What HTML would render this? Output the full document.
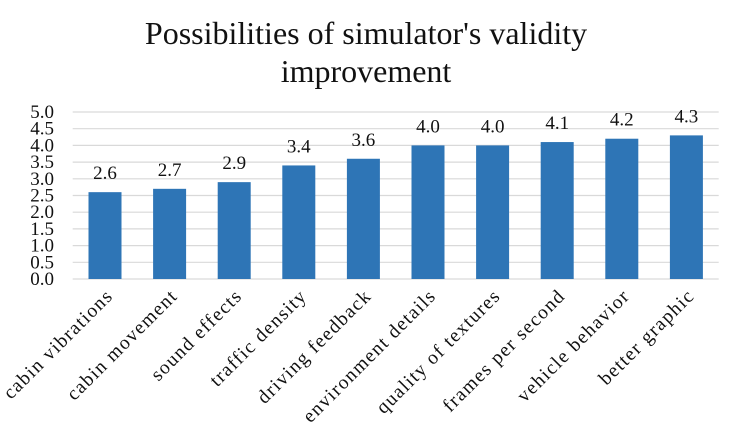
<!DOCTYPE html>
<html><head><meta charset="utf-8"><style>
body{margin:0;background:#fff}
svg{display:block;font-family:"Liberation Serif",serif}
</style></head><body>
<svg id="c" width="732" height="432">
<text x="366" y="44" text-anchor="middle" font-size="32" fill="#111">Possibilities of simulator's validity</text>
<text x="366" y="82" text-anchor="middle" font-size="32" fill="#111">improvement</text>
<g id="grid"></g><g id="bars"></g><g id="labels"></g>
</svg>
<script>
const categories=["cabin vibrations","cabin movement","sound effects","traffic density","driving feedback","environment details","quality of textures","frames per second","vehicle behavior","better graphic"];
const values=[2.6,2.7,2.9,3.4,3.6,4.0,4.0,4.1,4.2,4.3];
const ticks=[0,0.5,1,1.5,2,2.5,3,3.5,4,4.5,5];
const L=72.7,R=718.7,Y0=279,Y5=112,yMax=5;
const y=v=>Y0-(Y0-Y5)*v/yMax;
const band=(R-L)/categories.length;
const x=i=>L+band*(i+0.5);
const NS="http://www.w3.org/2000/svg";
function mk(t,a,p){const e=document.createElementNS(NS,t);for(const k in a)e.setAttribute(k,a[k]);p.appendChild(e);return e;}
const g=document.getElementById('grid'),b=document.getElementById('bars'),lb=document.getElementById('labels');
ticks.forEach(t=>{
 const l=mk('line',{x1:L,x2:R,y1:y(t),y2:y(t),stroke:'#d9d9d9','stroke-width':1.2},g);
 
 
 const tx=mk('text',{x:54,y:y(t)+6,'text-anchor':'end','font-size':19,fill:'#111'},g);
 tx.textContent=t.toFixed(1);
 
 
});
categories.forEach((c,i)=>{
 const w=33,cx=x(i);
 const r=mk('rect',{x:cx-w/2,y:y(values[i]),width:w,height:Y0-y(values[i]),fill:'#2e75b6'},b);
 
 
 const v=mk('text',{x:cx,y:y(values[i])-13,'text-anchor':'middle','font-size':19,fill:'#111'},lb);
 v.textContent=values[i].toFixed(1);
 
 
 const ax=cx+9,ay=Y0+18;
 const t=mk('text',{x:ax,y:ay,'text-anchor':'end','font-size':19.5,'letter-spacing':1.3,fill:'#111',transform:`rotate(-45 ${ax} ${ay})`},lb);
 t.textContent=c;
 
 
});
</script>
</body></html>
